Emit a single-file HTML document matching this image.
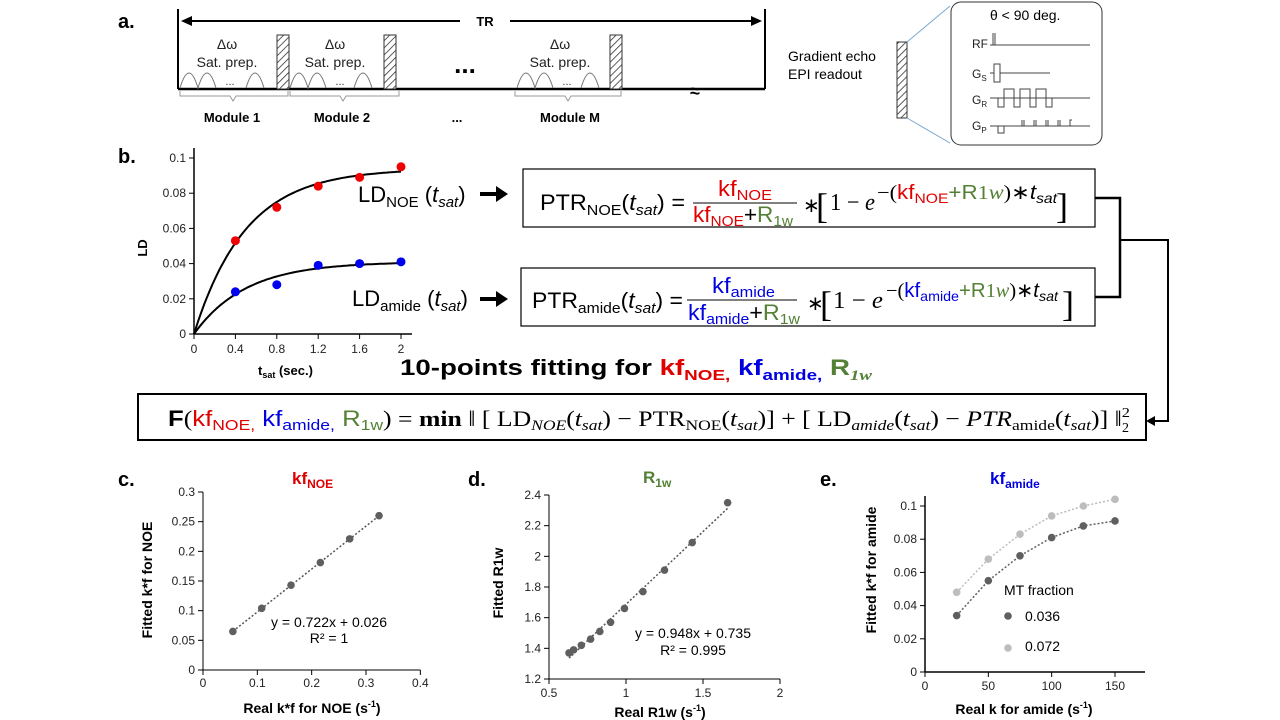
<!DOCTYPE html>
<html><head><meta charset="utf-8"><style>
html,body{margin:0;padding:0;background:#fff;}
svg{display:block;font-family:"Liberation Sans",Arial,sans-serif;}
.lbl{font-weight:bold;font-size:20px;}
.tk{font-size:12px;fill:#222;}
.ser{font-family:"Liberation Serif",serif;}
</style></head><body>
<svg id="fig" width="1280" height="720" viewBox="0 0 1280 720">
<defs>
<pattern id="hatch" width="5" height="5" patternUnits="userSpaceOnUse" patternTransform="rotate(45)">
<rect width="5" height="5" fill="#fff"/><line x1="0" y1="0" x2="0" y2="5" stroke="#333" stroke-width="1.6"/></pattern>
</defs>

<!-- Panel a -->
<g>
<text x="118" y="28" class="lbl">a.</text>
<line x1="178" y1="9" x2="178" y2="89" stroke="#000" stroke-width="2"/>
<line x1="765" y1="9" x2="765" y2="89" stroke="#000" stroke-width="2"/>
<line x1="178" y1="89" x2="765" y2="89" stroke="#000" stroke-width="2.5"/>
<line x1="186" y1="21" x2="460" y2="21" stroke="#000" stroke-width="2"/>
<line x1="510" y1="21" x2="752" y2="21" stroke="#000" stroke-width="2"/>
<path d="M181,21 l11,-5 v10z" fill="#000"/>
<path d="M762,21 l-11,-5 v10z" fill="#000"/>
<text x="485" y="26" font-size="13" font-weight="bold" text-anchor="middle">TR</text>
<g font-size="14" fill="#222" text-anchor="middle">
<text x="227" y="49">Δω</text><text x="227" y="67">Sat. prep.</text>
<text x="335" y="49">Δω</text><text x="335" y="67">Sat. prep.</text>
<text x="560" y="49">Δω</text><text x="560" y="67">Sat. prep.</text>
</g>
<g fill="none" stroke="#777" stroke-width="1">
<path d="M180,88 q9,-30 18,0 q9,-30 18,0 M246,88 q9,-30 18,0"/>
<path d="M290,88 q9,-30 18,0 q9,-30 18,0 M354,88 q9,-30 18,0"/>
<path d="M517,88 q9,-30 18,0 q9,-30 18,0 M581,88 q9,-30 18,0"/>
</g>
<g font-size="11" fill="#333" text-anchor="middle"><text x="230" y="85">...</text><text x="340" y="85">...</text><text x="567" y="85">...</text></g>
<rect x="277" y="35" width="12" height="54" fill="url(#hatch)" stroke="#333"/>
<rect x="384" y="35" width="12" height="54" fill="url(#hatch)" stroke="#333"/>
<rect x="610" y="35" width="12" height="54" fill="url(#hatch)" stroke="#333"/>
<text x="465" y="73" font-size="26" font-weight="bold" text-anchor="middle">...</text>
<text x="690" y="97" font-size="18" font-weight="bold">≈</text>
<g fill="none" stroke="#999" stroke-width="1">
<path d="M180,91 v5 h50 l3,5 l3,-5 h52 v-5"/>
<path d="M290,91 v5 h50 l3,5 l3,-5 h53 v-5"/>
<path d="M515,91 v5 h50 l3,5 l3,-5 h50 v-5"/>
</g>
<g font-size="13" font-weight="bold" text-anchor="middle">
<text x="232" y="122">Module 1</text><text x="342" y="122">Module 2</text>
<text x="457" y="122">...</text><text x="570" y="122">Module M</text></g>
<text x="788" y="61" font-size="14">Gradient echo</text>
<text x="788" y="79" font-size="14">EPI readout</text>
<rect x="897" y="42" width="10" height="76" fill="url(#hatch)" stroke="#333"/>
<line x1="907" y1="42" x2="950" y2="6" stroke="#7aa7d0"/><line x1="907" y1="118" x2="950" y2="143" stroke="#7aa7d0"/>
<rect x="951" y="2" width="151" height="143" rx="10" fill="#fff" stroke="#333"/>
<text x="990" y="20" font-size="14">θ &lt; 90 deg.</text>
<g font-size="12" fill="#222"><text x="972" y="48">RF</text><text x="972" y="78">G<tspan font-size="8" dy="3">S</tspan></text><text x="972" y="104">G<tspan font-size="8" dy="3">R</tspan></text><text x="972" y="130">G<tspan font-size="8" dy="3">P</tspan></text></g>
<g fill="none" stroke="#444" stroke-width="1">
<path d="M990,45 h100 M993,45 v-12 M995,45 v-12"/>
<path d="M990,73 h4 v-9 h6 v9 v9 h-6 v-9 M1000,73 h50"/>
<path d="M990,98 h100 M998,98 v9 h6 v-18 h10 v18 h6 v-18 h10 v18 h6 v-18 h10 v18 h6 v-9"/>
<path d="M990,126 h100 M998,126 v7 h6 v-7 M1022,126 v-6 M1034,126 v-6 M1046,126 v-6 M1058,126 v-6 M1070,126 v-6 h2 M1024,126 v-6 M1036,126 v-6 M1048,126 v-6 M1060,126 v-6"/>
</g>
</g>

<!-- Panel b -->
<text x="118" y="163" class="lbl">b.</text>
<g id="chartB"></g>

<g font-size="22">
<text x="358" y="202" font-size="22">LD<tspan font-size="15" dy="5">NOE</tspan><tspan dy="-5"> (</tspan><tspan font-style="italic">t</tspan><tspan font-style="italic" font-size="15" dy="5">sat</tspan><tspan dy="-5">)</tspan></text>
<text x="352" y="306" font-size="22">LD<tspan font-size="15" dy="5">amide</tspan><tspan dy="-5"> (</tspan><tspan font-style="italic">t</tspan><tspan font-style="italic" font-size="15" dy="5">sat</tspan><tspan dy="-5">)</tspan></text>
<path d="M480,192 h16 v-6 l12,8 l-12,8 v-6 h-16z" fill="#000"/>
<path d="M480,297 h16 v-6 l12,8 l-12,8 v-6 h-16z" fill="#000"/>

<!-- Box 1 -->
<rect x="523" y="169" width="572" height="58" fill="none" stroke="#000" stroke-width="1.2"/>
<text x="540" y="210" textLength="145" lengthAdjust="spacingAndGlyphs">PTR<tspan font-size="15" dy="5">NOE</tspan><tspan dy="-5">(</tspan><tspan font-style="italic">t</tspan><tspan font-style="italic" font-size="15" dy="5">sat</tspan><tspan dy="-5">) =</tspan></text>
<text x="718" y="196" fill="#e00000" textLength="54" lengthAdjust="spacingAndGlyphs">kf<tspan font-size="15" dy="4">NOE</tspan></text>
<line x1="693" y1="203" x2="797" y2="203" stroke="#000"/>
<text x="693" y="222" textLength="100" lengthAdjust="spacingAndGlyphs"><tspan fill="#e00000">kf</tspan><tspan fill="#e00000" font-size="15" dy="4">NOE</tspan><tspan dy="-4">+</tspan><tspan fill="#538135">R</tspan><tspan fill="#538135" font-size="15" dy="4">1w</tspan></text>
<text x="803" y="212" class="ser" font-size="20">∗</text>
<text x="816" y="218" class="ser" font-size="36">[</text>
<text x="830" y="210" class="ser" font-size="24" textLength="45" lengthAdjust="spacingAndGlyphs">1 − <tspan font-style="italic">e</tspan></text>
<text x="877" y="199" font-size="20" textLength="180" lengthAdjust="spacingAndGlyphs"><tspan class="ser">−(</tspan><tspan fill="#e00000">kf</tspan><tspan fill="#e00000" font-size="14" dy="4">NOE</tspan><tspan dy="-4" fill="#538135">+R</tspan><tspan fill="#538135" class="ser">1<tspan font-style="italic">w</tspan></tspan><tspan class="ser">)∗</tspan><tspan font-style="italic">t</tspan><tspan font-style="italic" font-size="14" dy="4">sat</tspan></text>
<text x="1056" y="218" class="ser" font-size="36">]</text>

<!-- Box 2 -->
<rect x="521" y="268" width="574" height="58" fill="none" stroke="#000" stroke-width="1.2"/>
<text x="532" y="308" textLength="151" lengthAdjust="spacingAndGlyphs">PTR<tspan font-size="15" dy="5">amide</tspan><tspan dy="-5">(</tspan><tspan font-style="italic">t</tspan><tspan font-style="italic" font-size="15" dy="5">sat</tspan><tspan dy="-5">) =</tspan></text>
<text x="712" y="293" fill="#0000e0" textLength="63" lengthAdjust="spacingAndGlyphs">kf<tspan font-size="15" dy="4">amide</tspan></text>
<line x1="687" y1="300" x2="797" y2="300" stroke="#000"/>
<text x="688" y="320" textLength="112" lengthAdjust="spacingAndGlyphs"><tspan fill="#0000e0">kf</tspan><tspan fill="#0000e0" font-size="15" dy="4">amide</tspan><tspan dy="-4">+</tspan><tspan fill="#538135">R</tspan><tspan fill="#538135" font-size="15" dy="4">1w</tspan></text>
<text x="807" y="310" class="ser" font-size="20">∗</text>
<text x="820" y="316" class="ser" font-size="36">[</text>
<text x="833" y="308" class="ser" font-size="24" textLength="50" lengthAdjust="spacingAndGlyphs">1 − <tspan font-style="italic">e</tspan></text>
<text x="886" y="297" font-size="20" textLength="172" lengthAdjust="spacingAndGlyphs"><tspan class="ser">−(</tspan><tspan fill="#0000e0">kf</tspan><tspan fill="#0000e0" font-size="14" dy="4">amide</tspan><tspan dy="-4" fill="#538135">+R</tspan><tspan fill="#538135" class="ser">1<tspan font-style="italic">w</tspan></tspan><tspan class="ser">)∗</tspan><tspan font-style="italic">t</tspan><tspan font-style="italic" font-size="14" dy="4">sat</tspan></text>
<text x="1062" y="316" class="ser" font-size="36">]</text>

<path d="M1095,198 H1120 V297 H1095" fill="none" stroke="#000" stroke-width="2.5"/>
<path d="M1120,240 H1168 V421 H1152" fill="none" stroke="#000" stroke-width="2"/>
<path d="M1146,421 l9,-5 v10z" fill="#000"/>

<text x="400" y="375" font-weight="bold" font-size="22" textLength="472" lengthAdjust="spacingAndGlyphs">10-points fitting for <tspan fill="#e00000">kf</tspan><tspan fill="#e00000" font-size="15" dy="5">NOE,</tspan><tspan dy="-5"> </tspan><tspan fill="#0000e0">kf</tspan><tspan fill="#0000e0" font-size="15" dy="5">amide,</tspan><tspan dy="-5"> </tspan><tspan fill="#538135">R</tspan><tspan fill="#538135" font-size="15" dy="5" class="ser" font-style="italic">1w</tspan></text>

<rect x="138" y="394" width="1008" height="46" fill="none" stroke="#000" stroke-width="2"/>
<text x="168" y="426" font-size="22" textLength="962" lengthAdjust="spacingAndGlyphs"><tspan font-weight="bold">F</tspan><tspan class="ser">(</tspan><tspan fill="#e00000">kf</tspan><tspan fill="#e00000" font-size="15" dy="4">NOE,</tspan><tspan dy="-4"> </tspan><tspan fill="#0000e0">kf</tspan><tspan fill="#0000e0" font-size="15" dy="4">amide,</tspan><tspan dy="-4"> </tspan><tspan fill="#538135">R</tspan><tspan fill="#538135" font-size="15" dy="4">1w</tspan><tspan dy="-4" class="ser">) = <tspan font-weight="bold">min</tspan> ‖ [ LD</tspan><tspan class="ser" font-style="italic" font-size="15" dy="4">NOE</tspan><tspan class="ser" dy="-4">(<tspan font-style="italic">t</tspan></tspan><tspan class="ser" font-style="italic" font-size="15" dy="4">sat</tspan><tspan class="ser" dy="-4">) − PTR</tspan><tspan class="ser" font-size="15" dy="4">NOE</tspan><tspan class="ser" dy="-4">(<tspan font-style="italic">t</tspan></tspan><tspan class="ser" font-style="italic" font-size="15" dy="4">sat</tspan><tspan class="ser" dy="-4">)] + [ LD</tspan><tspan class="ser" font-style="italic" font-size="15" dy="4">amide</tspan><tspan class="ser" dy="-4">(<tspan font-style="italic">t</tspan></tspan><tspan class="ser" font-style="italic" font-size="15" dy="4">sat</tspan><tspan class="ser" dy="-4">) − <tspan font-style="italic">PTR</tspan></tspan><tspan class="ser" font-size="15" dy="4">amide</tspan><tspan class="ser" dy="-4">(<tspan font-style="italic">t</tspan></tspan><tspan class="ser" font-style="italic" font-size="15" dy="4">sat</tspan><tspan class="ser" dy="-4">)] ‖</tspan><tspan class="ser" font-size="14" dy="-9">2</tspan></text>
<text x="1122" y="432" class="ser" font-size="14">2</text>
</g>

<!-- Panels c,d,e labels -->
<text x="118" y="486" class="lbl">c.</text>
<text x="468" y="486" class="lbl">d.</text>
<text x="820" y="486" class="lbl">e.</text>
<text x="292" y="484" font-size="17" font-weight="bold" fill="#e00000">kf<tspan font-size="12" dy="4">NOE</tspan></text>
<text x="643" y="483" font-size="17" font-weight="bold" fill="#538135">R<tspan font-size="12" dy="4">1w</tspan></text>
<text x="990" y="484" font-size="17" font-weight="bold" fill="#0000e0">kf<tspan font-size="12" dy="4">amide</tspan></text>
<g id="chartC"></g>
<g id="chartD"></g>
<g id="chartE"></g>
</svg>

<script>
// Panel b data
const bTimes = [0.4, 0.8, 1.2, 1.6, 2.0];
const bNoe = [0.053, 0.072, 0.084, 0.089, 0.095];
const bAmide = [0.024, 0.028, 0.039, 0.040, 0.041];
const bFitNoe = [0.094, 2.0];   // amplitude, rate
const bFitAmide = [0.041, 2.0];
const bXTicks = [0, 0.4, 0.8, 1.2, 1.6, 2];
const bYTicks = [0, 0.02, 0.04, 0.06, 0.08, 0.1];
// Panel c
const cReal = [0.055, 0.108, 0.162, 0.216, 0.270, 0.324];
const cFit = [0.065, 0.104, 0.143, 0.181, 0.221, 0.260];
const cXTicks = [0, 0.1, 0.2, 0.3, 0.4];
const cYTicks = [0, 0.05, 0.1, 0.15, 0.2, 0.25, 0.3];
// Panel d
const dReal = [0.63, 0.66, 0.71, 0.77, 0.83, 0.90, 0.99, 1.11, 1.25, 1.43, 1.66];
const dFit = [1.37, 1.39, 1.42, 1.46, 1.51, 1.57, 1.66, 1.77, 1.91, 2.09, 2.35];
const dXTicks = [0.5, 1, 1.5, 2];
const dYTicks = [1.2, 1.4, 1.6, 1.8, 2, 2.2, 2.4];
// Panel e
const eReal = [25, 50, 75, 100, 125, 150];
const eMt036 = [0.034, 0.055, 0.070, 0.081, 0.088, 0.091];
const eMt072 = [0.048, 0.068, 0.083, 0.094, 0.100, 0.104];
const eXTicks = [0, 50, 100, 150];
const eYTicks = [0, 0.02, 0.04, 0.06, 0.08, 0.1];

const NS = 'http://www.w3.org/2000/svg';
function mk(parent, tag, attrs, txt) {
  const e = document.createElementNS(NS, tag);
  for (const k in attrs) e.setAttribute(k, attrs[k]);
  if (txt !== undefined) e.textContent = txt;
  parent.appendChild(e);
  return e;
}
function lin(d0, d1, r0, r1) { return v => r0 + (v - d0) * (r1 - r0) / (d1 - d0); }

function axes(g, sx, sy, xt, yt, x0, x1, y0, y1, sw, fs, off) {
  const xa = mk(g, 'line', {x1: x0, y1: y0, x2: x1, y2: y0, stroke: '#000', 'stroke-width': sw});
  
  
  const ya = mk(g, 'line', {x1: x0, y1: y0, x2: x0, y2: y1, stroke: '#000', 'stroke-width': sw});
  
  
  xt.forEach(v => {
    mk(g, 'line', {x1: sx(v), y1: y0, x2: sx(v), y2: y0 + 5, stroke: '#000'});
    const t = mk(g, 'text', {x: sx(v), y: y0 + off, 'text-anchor': 'middle', class: 'tk', 'font-size': fs}, String(v));
    
    
  });
  yt.forEach(v => {
    mk(g, 'line', {x1: x0 - 5, y1: sy(v), x2: x0, y2: sy(v), stroke: '#000'});
    const t = mk(g, 'text', {x: x0 - 8, y: sy(v) + 4, 'text-anchor': 'end', class: 'tk', 'font-size': fs}, String(v));
    
    
  });
}

// Panel b
(function () {
  const g = document.getElementById('chartB');
  const sx = lin(0, 2, 194, 401), sy = lin(0, 0.1, 334, 158);
  axes(g, sx, sy, bXTicks, bYTicks, 194, 412, 334, 148, 1.5, 12, 19);
  [[bFitNoe, 'fit-curve-noe'], [bFitAmide, 'fit-curve-amide']].forEach(([p, nm]) => {
    let d = '';
    for (let i = 0; i <= 100; i++) { const t = 2 * i / 100; d += (i ? 'L' : 'M') + sx(t).toFixed(1) + ',' + sy(p[0] * (1 - Math.exp(-p[1] * t))).toFixed(1); }
    const pa = mk(g, 'path', {d, fill: 'none', stroke: '#000', 'stroke-width': 2});
    
    
  });
  bTimes.forEach((t, i) => {
    const c1 = mk(g, 'circle', {cx: sx(t), cy: sy(bNoe[i]), r: 4.5, fill: '#f00000'});
    
    
    const c2 = mk(g, 'circle', {cx: sx(t), cy: sy(bAmide[i]), r: 4.5, fill: '#0000f0'});
    
    
  });
  const yl = mk(g, 'text', {x: 0, y: 0, transform: 'translate(147,248) rotate(-90)', 'text-anchor': 'middle', 'font-size': 13, 'font-weight': 'bold'}, 'LD');
  
  
  const xl = mk(g, 'text', {x: 258, y: 375, 'font-size': 13, 'font-weight': 'bold'});
  xl.innerHTML = 't<tspan font-size="9" dy="3">sat</tspan><tspan dy="-3">  (sec.)</tspan>';
  
  
})();

function scatterPanel(id, xs, ys, sx, sy, col, nm) {
  const g = document.getElementById(id);
  xs.forEach((x, i) => {
    const c = mk(g, 'circle', {cx: sx(x), cy: sy(ys[i]), r: 3.8, fill: col});
    
    
  });
}
function trend(g, xs, ys, sx, sy, col, nm, ext) {
  const n = xs.length; let mx = 0, my = 0;
  xs.forEach((x, i) => { mx += x; my += ys[i]; }); mx /= n; my /= n;
  let num = 0, den = 0; xs.forEach((x, i) => { num += (x - mx) * (ys[i] - my); den += (x - mx) ** 2; });
  const b = num / den, a = my - b * mx;
  const xa = Math.min(...xs), xb = Math.max(...xs);
  const l = mk(g, 'line', {x1: sx(xa), y1: sy(a + b * xa), x2: sx(xb), y2: sy(a + b * xb), stroke: col, 'stroke-width': 1.5, 'stroke-dasharray': '2,2'});
  
  
}
function titles(g, yx, yy, yt, xx, xy, xtHtml) {
  const a = mk(g, 'text', {transform: `translate(${yx},${yy}) rotate(-90)`, 'text-anchor': 'middle', 'font-size': 14, 'font-weight': 'bold'}, yt);
  
  
  const b = mk(g, 'text', {x: xx, y: xy, 'text-anchor': 'middle', 'font-size': 14, 'font-weight': 'bold'});
  b.innerHTML = xtHtml;
  
  
}

// Panel c
(function () {
  const g = document.getElementById('chartC');
  const sx = lin(0, 0.3, 203, 366), sy = lin(0, 0.3, 670, 492);
  axes(g, sx, sy, cXTicks, cYTicks, 203, sx(0.4), 670, 492, 1, 13, 17);
  trend(g, cReal, cFit, sx, sy, '#555', 'trendline');
  scatterPanel('chartC', cReal, cFit, sx, sy, '#5f5f5f', 'point');
  mk(g, 'text', {x: 329, y: 627, 'text-anchor': 'middle', 'font-size': 14}, 'y = 0.722x + 0.026');
  mk(g, 'text', {x: 329, y: 643, 'text-anchor': 'middle', 'font-size': 14}, 'R² = 1');
  titles(g, 152, 580, 'Fitted k*f for NOE', 312, 713, 'Real k*f for NOE   (s<tspan font-size="9" dy="-6">-1</tspan><tspan dy="6">)</tspan>');
})();
// Panel d
(function () {
  const g = document.getElementById('chartD');
  const sx = lin(0.5, 2, 549, 780), sy = lin(1.2, 2.4, 679, 495);
  axes(g, sx, sy, dXTicks, dYTicks, 549, 780, 679, 495, 1, 13, 18);
  trend(g, dReal, dFit, sx, sy, '#555', 'trendline');
  scatterPanel('chartD', dReal, dFit, sx, sy, '#5f5f5f', 'point');
  mk(g, 'text', {x: 693, y: 638, 'text-anchor': 'middle', 'font-size': 14}, 'y = 0.948x + 0.735');
  mk(g, 'text', {x: 693, y: 655, 'text-anchor': 'middle', 'font-size': 14}, 'R² = 0.995');
  titles(g, 503, 583, 'Fitted R1w', 660, 717, 'Real R1w   (s<tspan font-size="9" dy="-6">-1</tspan><tspan dy="6">)</tspan>');
})();
// Panel e
(function () {
  const g = document.getElementById('chartE');
  const sx = lin(0, 150, 925, 1115), sy = lin(0, 0.1, 672, 506);
  axes(g, sx, sy, eXTicks, eYTicks, 925, 1145, 672, 496, 1.5, 13, 18);
  [[eMt072, '#bdbdbd', 'series-0072'], [eMt036, '#5f5f5f', 'series-0036']].forEach(([ys, col, nm]) => {
    let d = '';
    eReal.forEach((x, i) => { d += (i ? 'L' : 'M') + sx(x) + ',' + sy(ys[i]); });
    const p = mk(g, 'path', {d, fill: 'none', stroke: col, 'stroke-width': 1.5, 'stroke-dasharray': '2,2'});
    
    
    scatterPanel('chartE', eReal, ys, sx, sy, col, nm + '-point');
  });
  const lg = mk(g, 'g', {});
  
  
  mk(lg, 'text', {x: 1004, y: 595, 'font-size': 14}, 'MT fraction');
  mk(lg, 'circle', {cx: 1008, cy: 616, r: 3.8, fill: '#5f5f5f'});
  mk(lg, 'text', {x: 1025, y: 621, 'font-size': 14}, '0.036');
  mk(lg, 'circle', {cx: 1008, cy: 648, r: 3.8, fill: '#bdbdbd'});
  mk(lg, 'text', {x: 1025, y: 651, 'font-size': 14}, '0.072');
  titles(g, 876, 570, 'Fitted k*f for  amide', 1024, 714, 'Real k for amide  (s<tspan font-size="9" dy="-6">-1</tspan><tspan dy="6">)</tspan>');
})();
</script>
</body></html>
